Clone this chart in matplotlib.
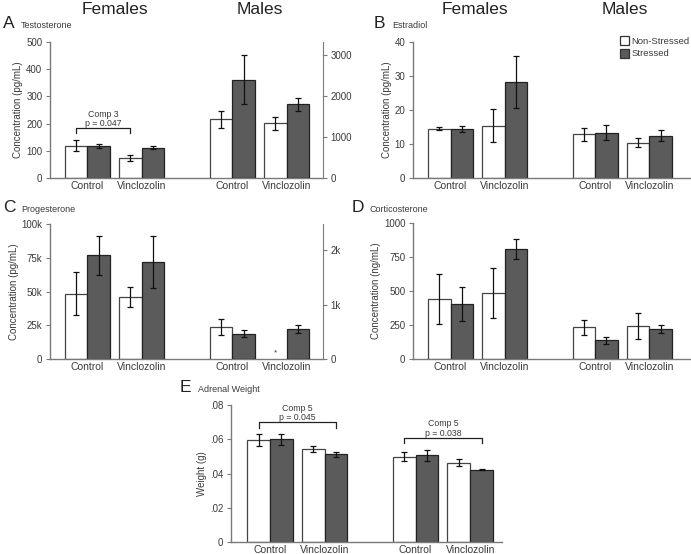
import matplotlib
matplotlib.use("Agg")
import matplotlib.pyplot as plt
import numpy as np
from matplotlib.patches import Patch

plt.rcParams['font.family'] = ['Liberation Sans', 'DejaVu Sans']

groups = ["Control", "Vinclozolin", "Control", "Vinclozolin"]
legend_labels = ["Non-Stressed", "Stressed"]

# Testosterone (females left axis pg/mL, males right axis)
testo_ns = [119, 75, 1435, 1338]
testo_ns_err = [20, 11, 215, 162]
testo_s = [117, 112, 2408, 1800]
testo_s_err = [8, 6, 605, 162]

# Estradiol
estr_ns = [14.5, 15.4, 12.8, 10.4]
estr_ns_err = [0.5, 4.8, 1.8, 1.3]
estr_s = [14.4, 28.2, 13.3, 12.5]
estr_s_err = [1.0, 7.7, 2.2, 1.7]

# Progesterone (females left axis, males right axis)
prog_ns = [48300, 45800, 587, np.nan]
prog_ns_err = [15800, 7500, 150, np.nan]
prog_s = [76800, 71900, 465, 557]
prog_s_err = [14400, 19500, 68, 76]

# Corticosterone
cort_ns = [441, 485, 233, 243]
cort_ns_err = [184, 184, 54, 95]
cort_s = [404, 809, 137, 220]
cort_s_err = [125, 73, 25, 27]

# Adrenal weight
adr_ns = [0.0595, 0.0542, 0.0498, 0.0464]
adr_ns_err = [0.0034, 0.0017, 0.0025, 0.0022]
adr_s = [0.0599, 0.0511, 0.0507, 0.0423]
adr_s_err = [0.0031, 0.0017, 0.0032, 0.0004]

W, H = 691, 554
fig = plt.figure(figsize=(W/100, H/100), dpi=100)

centers = np.array([0, 2.4, 6.4, 8.8])
bw = 1.0
DARK = "#5b5b5b"
AX = "#7a7a7a"
TXT = "#3a3a3a"

def make_ax(l, r, t, b):
    return fig.add_axes([l/W, (H-b)/H, (r-l)/W, (b-t)/H])

def style(ax):
    for s in ["top", "right"]:
        ax.spines[s].set_visible(False)
    for s in ["left", "bottom"]:
        ax.spines[s].set_color(AX)
        ax.spines[s].set_linewidth(1.0)
    ax.tick_params(axis='y', colors=AX, labelcolor=TXT, labelsize=7, length=3, width=0.8, pad=2.5)
    ax.tick_params(axis='x', length=0, labelsize=7.5, labelcolor=TXT, pad=2)
    ax.set_xticks(centers)
    ax.set_xticklabels(groups)

def right_axis(ax2):
    for s in ["top", "left", "bottom"]:
        ax2.spines[s].set_visible(False)
    ax2.spines["right"].set_color(AX)
    ax2.tick_params(axis='y', colors=AX, labelcolor=TXT, labelsize=7, length=3, width=0.8, pad=2.5)

def bars(ax, idx, ns, nse, s, se):
    x = centers[idx]
    ns = np.asarray(ns, float)[idx]; nse = np.asarray(nse, float)[idx]
    s = np.asarray(s, float)[idx]; se = np.asarray(se, float)[idx]
    ekw = dict(ecolor="#111111", elinewidth=0.9, capsize=2.5, capthick=0.9)
    ax.bar(x - bw/2, ns, bw, color="white", edgecolor="#444444", linewidth=0.9,
           yerr=nse, error_kw=ekw, zorder=2)
    ax.bar(x + bw/2, s, bw, color=DARK, edgecolor="#222222", linewidth=0.9,
           yerr=se, error_kw=ekw, zorder=2)

def bracket(ax, x1, x2, y, drop, lines):
    ax.plot([x1, x1, x2, x2], [y - drop, y, y, y - drop], color="#222222", lw=0.9, clip_on=False)
    ax.text((x1 + x2)/2, y, lines, ha="center", va="bottom", fontsize=6.3,
            color=TXT, linespacing=1.1)

def ylab(ax, s):
    ax.set_ylabel(s, fontsize=7, color=TXT, labelpad=2)

F = [0, 1]
M = [2, 3]

# ---------- Panel A ----------
axA = make_ax(50, 323, 42, 178)
style(axA)
axA.set_xlim(-1.65, 10.4)
axA.set_ylim(0, 500)
axA.set_yticks([0, 100, 200, 300, 400, 500])
bars(axA, F, testo_ns, testo_ns_err, testo_s, testo_s_err)
ylab(axA, "Concentration (pg/mL)")
axA2 = axA.twinx()
axA2.set_ylim(0, 3330)
axA2.set_yticks([0, 1000, 2000, 3000])
right_axis(axA2)
bars(axA2, M, testo_ns, testo_ns_err, testo_s, testo_s_err)
bracket(axA, centers[0] - bw/2, centers[1] - bw/2, 182, 15, "Comp 3\np = 0.047")

# ---------- Panel B ----------
axB = make_ax(413, 690, 42, 178)
style(axB)
axB.set_xlim(-1.66, 10.6)
axB.set_ylim(0, 40)
axB.set_yticks([0, 10, 20, 30, 40])
bars(axB, [0, 1, 2, 3], estr_ns, estr_ns_err, estr_s, estr_s_err)
ylab(axB, "Concentration (pg/mL)")
leg = fig.legend(handles=[Patch(facecolor="white", edgecolor="#333333", lw=0.9),
                          Patch(facecolor=DARK, edgecolor="#333333", lw=0.9)],
                 labels=legend_labels, loc="upper left",
                 bbox_to_anchor=(620/W, 1 - 36/H), bbox_transform=fig.transFigure,
                 frameon=False, fontsize=6.8, handlelength=1.0, handleheight=1.1,
                 handletextpad=0.2, labelspacing=0.3, borderaxespad=0.0, borderpad=0.0)
for t in leg.get_texts():
    t.set_color(TXT)

# ---------- Panel C ----------
axC = make_ax(50, 323, 224, 359)
style(axC)
axC.set_xlim(-1.65, 10.4)
axC.set_ylim(0, 100000)
axC.set_yticks([0, 25000, 50000, 75000, 100000])
axC.set_yticklabels(["0", "25k", "50k", "75k", "100k"])
bars(axC, F, prog_ns, prog_ns_err, prog_s, prog_s_err)
ylab(axC, "Concentration (pg/mL)")
axC2 = axC.twinx()
axC2.set_ylim(0, 2480)
axC2.set_yticks([0, 1000, 2000])
axC2.set_yticklabels(["0", "1k", "2k"])
right_axis(axC2)
bars(axC2, M, prog_ns, prog_ns_err, prog_s, prog_s_err)
axC2.text(centers[3] - bw/2, 110, "*", ha="center", va="center", fontsize=6, color=TXT)

# ---------- Panel D ----------
axD = make_ax(413, 690, 223, 359)
style(axD)
axD.set_xlim(-1.66, 10.6)
axD.set_ylim(0, 1000)
axD.set_yticks([0, 250, 500, 750, 1000])
bars(axD, [0, 1, 2, 3], cort_ns, cort_ns_err, cort_s, cort_s_err)
ylab(axD, "Concentration (ng/mL)")

# ---------- Panel E ----------
axE = make_ax(231, 502, 405, 542)
style(axE)
axE.set_xlim(-1.72, 10.2)
axE.set_ylim(0, 0.08)
axE.set_yticks([0, 0.02, 0.04, 0.06, 0.08])
axE.set_yticklabels(["0", ".02", ".04", ".06", ".08"])
bars(axE, [0, 1, 2, 3], adr_ns, adr_ns_err, adr_s, adr_s_err)
ylab(axE, "Weight (g)")
bracket(axE, centers[0] - bw/2, centers[1] + bw/2, 0.0698, 0.003, "Comp 5\np = 0.045")
bracket(axE, centers[2] - bw/2, centers[3] + bw/2, 0.0609, 0.003, "Comp 5\np = 0.038")

# ---------- Text ----------
def ftext(x, y, s, **kw):
    fig.text(x/W, 1 - y/H, s, **kw)

for (fx, mx) in [(115, 260), (475, 625)]:
    ftext(fx, 10, "Females", fontsize=12.5, ha="center", va="center", color="#222222")
    ftext(mx, 10, "Males", fontsize=12.5, ha="center", va="center", color="#222222")

for (x, y, L, name) in [(3, 24, "A", "Testosterone"), (374, 24, "B", "Estradiol"),
                        (3, 208, "C", "Progesterone"), (352, 208, "D", "Corticosterone"),
                        (180, 388, "E", "Adrenal Weight")]:
    ftext(x, y, L, fontsize=12.5, ha="left", va="center", color="#222222")
    ftext(x + 18, y + 1, name, fontsize=6.5, ha="left", va="center", color=TXT)

fig.savefig("out.png", dpi=100)
